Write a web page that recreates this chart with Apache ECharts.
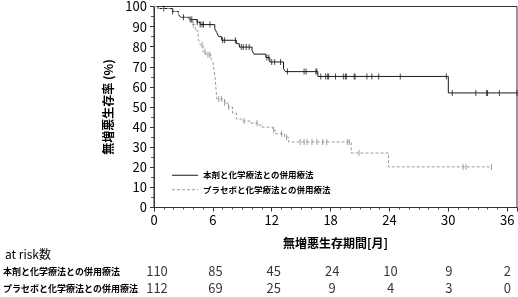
<!DOCTYPE html>
<html><head><meta charset="utf-8">
<script src="https://cdn.jsdelivr.net/npm/echarts@6/dist/echarts.min.js"></script>
<style>html,body{margin:0;padding:0;background:#fff}#c{width:518px;height:297px}</style>
</head><body><div id="c"></div>
<script>
const nameActive = '本剤と化学療法との併用療法';
const namePlacebo = 'プラセボと化学療法との併用療法';
// KM steps [month, survival %]
const activeCurve = [[0,100],[0.4,99],[1.9,97.5],[2.5,96],[2.7,94.6],[3.6,93.5],[4.4,92.2],[4.7,91],[6.2,89],[6.4,87],[6.6,85],[6.9,83.2],[8.4,81.5],[8.7,79.8],[10.0,78],[10.2,76.3],[11.4,74.6],[11.8,72.4],[13.2,69],[13.4,67.6],[16.7,65.2],[30.0,57.0],[37,57.0]];
const placeboCurve = [[0,100],[0.4,99],[1.9,97.5],[2.5,96],[2.7,94.6],[3.6,93.5],[3.9,91],[4.2,88],[4.5,84],[4.7,81],[5.0,77.5],[5.3,76],[5.8,74],[6.0,72.5],[6.1,69],[6.2,66],[6.3,60],[6.4,54],[7.2,52],[7.6,50],[8.0,47],[8.4,44],[9.0,43],[9.8,42],[10.6,41],[11.0,40],[12.1,38.4],[12.4,36.7],[13.3,35],[13.7,32.6],[20.1,27.1],[23.9,20.2],[34.4,20.2]];
const activeCensor = [1.0,1.9,3.0,3.7,3.85,4.4,4.7,4.9,5.05,5.7,7.0,7.2,8.3,8.9,9.1,9.4,9.7,11.5,11.7,12.0,12.3,12.9,13.6,15.3,15.5,16.5,16.6,17.0,17.5,17.7,17.8,18.5,19.3,19.5,19.6,20.4,20.5,21.7,22.2,22.9,25.1,29.8,30.4,32.8,33.9,34.0,35.2,37.0];
const placeboCensor = [3.7,4.0,4.9,5.2,5.5,5.7,6.6,6.9,7.2,7.6,9.2,10.5,12.2,13.0,13.5,14.9,15.3,15.6,16.1,16.6,17.2,17.6,19.7,19.9,20.9,31.5,31.8,34.4];
const riskTimes = [0,6,12,18,24,30,36];
const riskActive = [110,85,45,24,10,9,2];
const riskPlacebo = [112,69,25,9,4,3,0];

function stepAt(curve, t){ let v = curve[0][1]; for (const p of curve){ if (p[0] <= t) v = p[1]; } return v; }
const FONT = '"Noto Sans CJK JP", "Noto Sans", sans-serif';
const solidIcon = 'path://M0,0H26V1H0Z';
let dashPath = 'path://'; for (let x = 0; x < 26; x += 5) dashPath += 'M' + x + ',0H' + Math.min(x + 3, 26) + 'V1H' + x + 'Z';
const chart = echarts.init(document.getElementById('c'), null, {renderer:'canvas'});
chart.setOption({
  animation:false,
  textStyle:{fontFamily:FONT},
  title:{text:'at risk数', left:0, top:243, textStyle:{fontSize:12, fontWeight:'normal', color:'#000', fontFamily:FONT}},
  legend:{data:[{name:nameActive, icon:solidIcon},{name:namePlacebo, icon:dashPath}], orient:'vertical', left:167, top:166,
    itemWidth:26, itemHeight:1, itemGap:6, symbolKeepAspect:false,
    textStyle:{fontSize:8.5, fontWeight:'bold', color:'#000', fontFamily:FONT}},
  grid:[{left:154, right:1, top:5.5, bottom:89.5, show:true, borderColor:'#333', borderWidth:1},
        {left:154, right:1, top:263, height:36}],
  xAxis:[{type:'value', gridIndex:0, min:0, max:37, interval:6,
      name:'無増悪生存期間[月]', nameLocation:'middle', nameGap:30,
      nameTextStyle:{fontSize:12, fontWeight:'bold', color:'#000', fontFamily:FONT},
      axisLine:{lineStyle:{color:'#333'}}, axisTick:{length:4, lineStyle:{color:'#333'}},
      minorTick:{show:true, splitNumber:6, length:2, lineStyle:{color:'#555'}},
      splitLine:{show:false}, axisLabel:{fontSize:13, color:'#000', margin:6, fontFamily:FONT}},
    {type:'value', gridIndex:1, min:0, max:37, interval:6, show:false}],
  yAxis:[{type:'value', gridIndex:0, min:0, max:100, interval:10,
      name:'無増悪生存率 (%)', nameLocation:'middle', nameGap:31, nameRotate:90,
      nameTextStyle:{fontSize:12, fontWeight:'bold', color:'#000', fontFamily:FONT},
      axisLine:{show:true, lineStyle:{color:'#333'}}, axisTick:{show:true, length:4, lineStyle:{color:'#333'}},
      minorTick:{show:true, splitNumber:2, length:3, lineStyle:{color:'#555'}},
      splitLine:{show:false}, axisLabel:{fontSize:13, color:'#000', margin:7, fontFamily:FONT}},
    {type:'category', gridIndex:1, inverse:true, data:[nameActive,namePlacebo],
      axisLine:{show:false}, axisTick:{show:false},
      axisLabel:{align:'left', margin:154, fontSize:9, fontWeight:'bold', color:'#000', fontFamily:FONT}}],
  series:[
    {name:nameActive, type:'line', step:'end', symbol:'none', data:activeCurve, xAxisIndex:0, yAxisIndex:0,
      lineStyle:{color:'#1a1a1a', width:1}, itemStyle:{color:'#1a1a1a'}},
    {name:namePlacebo, type:'line', step:'end', symbol:'none', data:placeboCurve, xAxisIndex:0, yAxisIndex:0,
      lineStyle:{color:'#9a9a9a', width:1, type:[3,2]}, itemStyle:{color:'#9a9a9a'}},
    {type:'scatter', symbol:'rect', symbolSize:[1,6], data:activeCensor.map(t=>[t, stepAt(activeCurve,t)]),
      itemStyle:{color:'#1a1a1a'}, z:3},
    {type:'scatter', symbol:'rect', symbolSize:[1,6], data:placeboCensor.map(t=>[t, stepAt(placeboCurve,t)]),
      itemStyle:{color:'#8a8a8a'}, z:3},
    {type:'scatter', xAxisIndex:1, yAxisIndex:1, symbolSize:1, itemStyle:{color:'transparent'},
      data:riskTimes.map((t,i)=>[t, nameActive, riskActive[i]]),
      label:{show:true, position:'inside', formatter:p=>String(p.value[2]), fontSize:13, color:'#000', fontFamily:FONT}},
    {type:'scatter', xAxisIndex:1, yAxisIndex:1, symbolSize:1, itemStyle:{color:'transparent'},
      data:riskTimes.map((t,i)=>[t, namePlacebo, riskPlacebo[i]]),
      label:{show:true, position:'inside', formatter:p=>String(p.value[2]), fontSize:13, color:'#000', fontFamily:FONT}}
  ]
});
</script></body></html>
